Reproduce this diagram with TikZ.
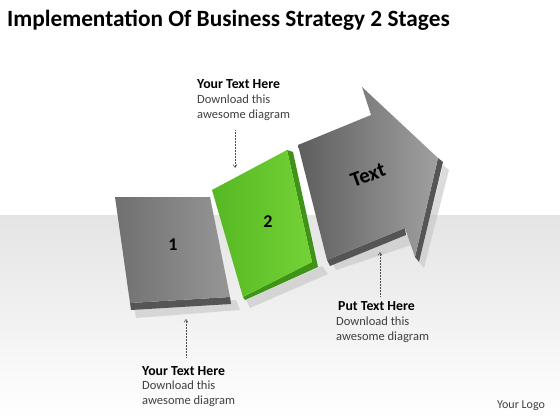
\documentclass[tikz,border=0pt]{standalone}
\usepackage{fontspec}
\setmainfont{Carlito}
\usetikzlibrary{arrows.meta}
\definecolor{bandgray}{HTML}{E4E4E4}
\definecolor{grayL}{HTML}{707070}
\definecolor{grayR}{HTML}{969696}
\definecolor{arrowL}{HTML}{5E5E5E}
\definecolor{arrowR}{HTML}{A0A0A0}
\definecolor{grayEdge}{HTML}{555555}
\definecolor{greenL}{HTML}{56B823}
\definecolor{greenR}{HTML}{74D236}
\definecolor{greenEdge}{HTML}{3F9418}
\definecolor{shadowgray}{HTML}{C4C4C4}
\definecolor{txtgray}{HTML}{404040}
\tikzset{
  headtxt/.style={font=\bfseries\fontsize{13.8}{16}\selectfont, text=black, inner sep=0pt, anchor=north west, align=left},
  bodytxt/.style={font=\fontsize{12.5}{15}\selectfont, text=txtgray, inner sep=0pt, anchor=north west, align=left},
  pointer/.style={densely dotted, draw=black!70, line width=0.5pt, -{Straight Barb[length=3pt,width=4pt]}},
  numtxt/.style={font=\bfseries\fontsize{18}{18}\selectfont, text=black},
  shadowfill/.style={fill=shadowgray, opacity=0.6}
}
\begin{document}
\begin{tikzpicture}[x=1pt,y=-1pt]
\useasboundingbox (0,0) rectangle (560,420);
% background
\fill[white] (0,0) rectangle (560,420);
\shade[top color=bandgray, bottom color=white] (0,215) rectangle (560,420);

% title
\node[font=\bfseries\fontsize{23.3}{23.3}\selectfont, anchor=west, inner sep=0pt] (title) at (7,20) {Implementation Of Business Strategy 2 Stages};

% shadows
\fill[shadowfill] (134,306) -- (236,300) -- (240,310) -- (136,318) -- cycle;
\fill[shadowfill] (246,300) -- (322,266) -- (328,274) -- (250,308) -- cycle;
\fill[shadowfill] (332,262) -- (410,234) -- (414,244) -- (336,270) -- cycle;
\fill[shadowfill] (443,165) -- (449,170) -- (424,268) -- (419,262) -- cycle;

% block 1
\fill[grayEdge] (130,303) -- (230,297) -- (231,304) -- (131,310) -- cycle;
\shade[left color=grayL, right color=grayR] (115,197) -- (210,197) -- (230,297) -- (130,303) -- cycle;
\node[numtxt] (n1) at (173,245) {1};

% block 2 (green)
\fill[greenEdge] (287,150) -- (293,152) -- (318,267) -- (245,300) -- (243,297) -- (312,262) -- cycle;
\shade[left color=greenL, right color=greenR] (212,190) -- (287,150) -- (312,262) -- (243,297) -- cycle;
\node[numtxt] (n2) at (268,222) {2};

% arrow
\fill[grayEdge] (438,158) -- (443,162) -- (419,262) -- (415,257) -- cycle;
\fill[grayEdge] (327,260) -- (405,228) -- (406,235) -- (330,266) -- cycle;
\shade[left color=arrowL, right color=arrowR] (298,145) -- (371,115) -- (362,87) -- (438,158) -- (415,257) -- (405,228) -- (327,260) -- cycle;
\node[font=\bfseries\fontsize{21}{21}\selectfont, rotate=20, inner sep=0pt] (atext) at (368,175) {Text};

% annotations
\node[headtxt] (h1) at (197,79) {Your Text Here};
\node[bodytxt] (b1) at (197,95) {Download this\\awesome diagram};
\coordinate (t1) at (235,168);
\draw[pointer] (235,130) -- (t1);

\node[headtxt] (h2) at (142,366) {Your Text Here};
\node[bodytxt] (b2) at (142,381) {Download this\\awesome diagram};
\coordinate (t2) at (186,319);
\draw[pointer] (186,357) -- (t2);

\node[headtxt] (h3) at (338,301) {Put Text Here};
\node[bodytxt] (b3) at (336,317) {Download this\\awesome diagram};
\coordinate (t3) at (380,252);
\draw[pointer] (380,296) -- (t3);

\node[font=\fontsize{12}{12}\selectfont, text=txtgray, anchor=west, inner sep=0pt] (logo) at (497,406) {Your Logo};
\end{tikzpicture}
\end{document}
